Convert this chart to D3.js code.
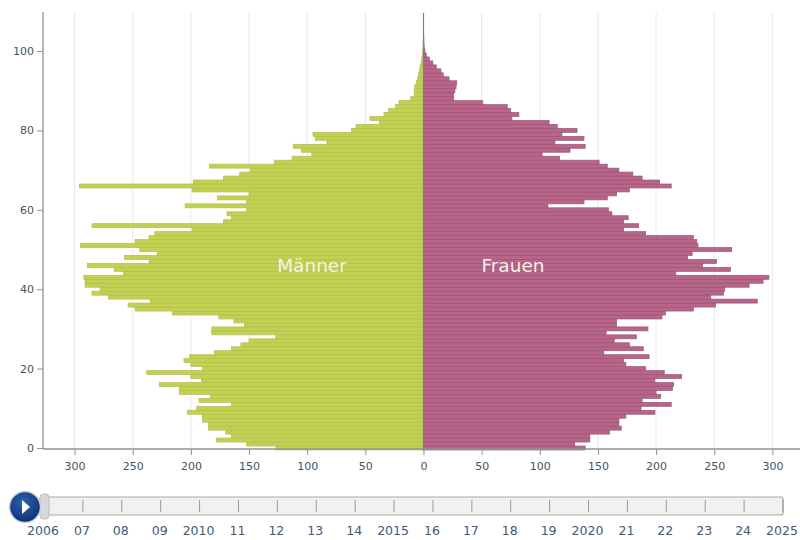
<!DOCTYPE html>
<html><head><meta charset="utf-8">
<script src="https://cdnjs.cloudflare.com/ajax/libs/d3/7.8.5/d3.min.js"></script>
<style>html,body{margin:0;padding:0;background:#fff}svg{display:block}text{font-family:"DejaVu Sans",sans-serif}</style>
</head><body><svg id="c" width="800" height="540"></svg>
<script>
// Values per age, starting at age 0
const men = [127,152,178,165,170,185,185,190,190,203,195,165,193,183,210,210,227,191,200,238,190,200,206,201,180,165,157,150,127,182,182,154,163,176,216,248,254,235,271,285,278,291,291,292,258,266,289,236,257,229,244,295,248,236,231,199,285,172,165,169,152,205,152,177,150,199,296,198,172,158,149,184,128,113,96,105,112,83,93,95,62,58,38,46,34,30,24,21,11,8,8,7.5,6,5,4.3,3.5,3,2,1.5,1,0.6,0.4,0.3,0.2,0.2,0.1,0.1,0.1,0.1,0.1];
const women = [139,130,143,143,160,170,168,168,174,199,187,213,188,204,200,214,215,199,222,207,191,174,172,194,155,189,177,164,183,157,193,166,166,205,208,232,251,287,247,258,259,280,292,297,217,264,240,252,227,231,265,236,235,232,191,172,185,172,176,162,159,107,138,158,166,177,213,203,188,180,168,158,151,117,102,126,139,113,138,119,132,115,108,76,82,75,72,51,26,26,27,28,28.6,22,17,15,11,8,5,2.3,1.2,0.6,0.4,0.3,0.2,0.1,0.1,0.1,0.1,0.1];
const ageTicks = [0,20,40,60,80,100];
const valueTicks = [300,250,200,150,100,50,0,50,100,150,200,250,300];
const years = ["2006","07","08","09","2010","11","12","13","14","2015","16","17","18","19","2020","21","22","23","24","2025"];
const sideLabels = ["Männer","Frauen"];

const svg = d3.select("#c");
const W0 = 423.5, unit = 1.163;
const xL = d3.scaleLinear().domain([0,326]).range([W0, W0-326*unit]);
const xR = d3.scaleLinear().domain([0,323]).range([W0, W0+323*unit]);
const y = d3.scaleLinear().domain([0,100]).range([448,51]);
const axisC = "#8f9396", textC = "#3d5566";

// grid
const gridVals = [50,100,150,200,250,300];
svg.append("g").selectAll("line").data(gridVals.flatMap(v=>[xL(v),xR(v)])).join("line")
  .attr("x1",d=>d).attr("x2",d=>d).attr("y1",12).attr("y2",448).attr("stroke","#e9e9ee").attr("stroke-width",1);

// bars
const h = y(0)-y(1);
const bars = (data,fill,stroke,scale,left)=>svg.append("g").selectAll("rect").data(data).join("rect")
  .attr("x",d=>left?scale(d):W0).attr("y",(d,i)=>y(i)-h/2)
  .attr("width",d=>Math.abs(scale(d)-W0)).attr("height",h)
  .attr("fill",fill).attr("stroke",stroke).attr("stroke-width",0.7);
bars(men,"#c3d150","#b2bd52",xL,true);
bars(women,"#bd6288","#8e5c7a",xR,false);
svg.append("line").attr("x1",W0).attr("x2",W0).attr("y1",13).attr("y2",451).attr("stroke","#8a7f6a").attr("stroke-width",1.2);

// axes
const yAxis = d3.axisLeft(y).tickValues(ageTicks).tickSize(6).tickPadding(3);
const gy = svg.append("g").attr("transform","translate(43,0)").call(yAxis);
gy.select(".domain").attr("d","M0,12V448");
const xBottom = d3.scalePoint().domain(d3.range(valueTicks.length)).range([xL(300),xR(300)]);
const xAxis = d3.axisBottom(xBottom).tickFormat(i=>valueTicks[i]).tickSize(6).tickPadding(7);
const gx = svg.append("g").attr("transform","translate(0,449)").call(xAxis);
gx.select(".domain").attr("d","M43,0H800");
[gx,gy].forEach(g=>{
  g.selectAll(".domain").attr("stroke",axisC).attr("stroke-width",1.3);
  g.selectAll(".tick line").attr("stroke",axisC);
  g.selectAll("text").attr("fill",textC).style("font-size","11px").style("font-family",'"DejaVu Sans",sans-serif');
});

// side labels
svg.append("g").selectAll("text").data(sideLabels).join("text")
  .attr("x",(d,i)=>i?513:312).attr("y",272).attr("text-anchor","middle")
  .attr("fill","#f2f4e6").style("font-size","18.5px").text(d=>d);

// timeline
const tx = d3.scalePoint().domain(years).range([44,783]);
svg.append("rect").attr("x",40).attr("y",497).attr("width",743).attr("height",18).attr("rx",2)
  .attr("fill","#f1f1f1").attr("stroke","#a9a9a9").attr("stroke-width",1.2);
svg.append("g").selectAll("line").data(years.slice(1)).join("line")
  .attr("x1",d=>tx(d)).attr("x2",d=>tx(d)).attr("y1",500).attr("y2",512)
  .attr("stroke","#9a9a9a");
svg.append("g").selectAll("text").data(years).join("text")
  .attr("x",d=>tx(d)-1).attr("y",535).attr("text-anchor","middle")
  .attr("fill","#3b5a80").style("font-size","12.5px").text(d=>d);
svg.append("rect").attr("x",40).attr("y",494).attr("width",9).attr("height",25).attr("rx",3.5)
  .attr("fill","#d8d8d8").attr("stroke","#bdbdbd");
const grad = svg.append("defs").append("radialGradient").attr("id","pb").attr("cx","45%").attr("cy","35%").attr("r","70%");
grad.append("stop").attr("offset","0%").attr("stop-color","#2f62b0");
grad.append("stop").attr("offset","100%").attr("stop-color","#0c2c6e");
svg.append("circle").attr("cx",25).attr("cy",507).attr("r",15.5).attr("fill","url(#pb)").attr("stroke","#c6d2e4").attr("stroke-width",1.5);
svg.append("path").attr("d","M22,500L30,507L22,514Z").attr("fill","#fff");
</script></body></html>
